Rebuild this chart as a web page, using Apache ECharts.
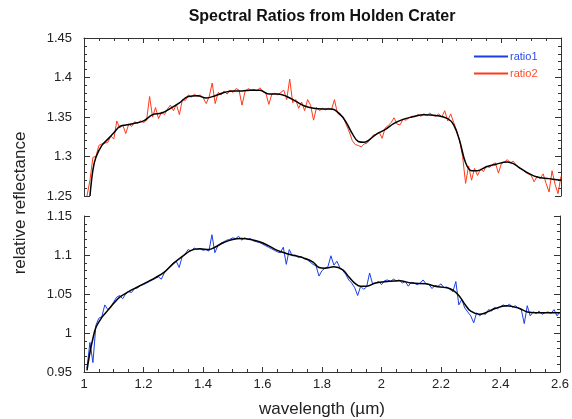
<!DOCTYPE html>
<html>
<head>
<meta charset="utf-8">
<script src="https://cdn.jsdelivr.net/npm/echarts@6/dist/echarts.min.js"></script>
<style>
  html, body { margin: 0; padding: 0; background: #fff; }
  #container { width: 572px; height: 419px; }
</style>
</head>
<body>
<div id="container"></div>
<script>
// wavelength samples (um)
var wl = [
  1.01,1.02,1.03,1.04,1.05,1.06,1.07,1.08,1.09,1.10,
  1.11,1.12,1.13,1.14,1.15,1.16,1.17,1.18,1.19,1.20,
  1.21,1.22,1.23,1.24,1.25,1.26,1.27,1.28,1.29,1.30,
  1.31,1.32,1.33,1.34,1.35,1.36,1.37,1.38,1.39,1.40,
  1.41,1.42,1.43,1.44,1.45,1.46,1.47,1.48,1.49,1.50,
  1.51,1.52,1.53,1.54,1.55,1.56,1.57,1.58,1.59,1.60,
  1.61,1.62,1.63,1.64,1.65,1.66,1.67,1.68,1.69,1.70,
  1.71,1.72,1.73,1.74,1.75,1.76,1.77,1.78,1.79,1.80,
  1.81,1.82,1.83,1.84,1.85,1.86,1.87,1.88,1.89,1.90,
  1.91,1.92,1.93,1.94,1.95,1.96,1.97,1.98,1.99,2.00,
  2.01,2.02,2.03,2.04,2.05,2.06,2.07,2.08,2.09,2.10,
  2.11,2.12,2.13,2.14,2.15,2.16,2.17,2.18,2.19,2.20,
  2.21,2.22,2.23,2.24,2.25,2.26,2.27,2.28,2.29,2.30,
  2.31,2.32,2.33,2.34,2.35,2.36,2.37,2.38,2.39,2.40,
  2.41,2.42,2.43,2.44,2.45,2.46,2.47,2.48,2.49,2.50,
  2.51,2.52,2.53,2.54,2.55,2.56,2.57,2.58,2.59,2.60
];

// ratio2 (top panel, red)
var ratio2 = [
  1.250,1.270,1.299,1.300,1.314,1.316,1.317,1.318,1.326,1.322,
  1.345,1.336,1.340,1.329,1.341,1.338,1.344,1.342,1.345,1.343,
  1.346,1.376,1.350,1.362,1.348,1.356,1.353,1.360,1.365,1.358,
  1.366,1.353,1.372,1.371,1.378,1.375,1.379,1.376,1.378,1.374,
  1.367,1.376,1.393,1.367,1.381,1.378,1.383,1.379,1.384,1.381,
  1.386,1.384,1.365,1.382,1.386,1.384,1.385,1.383,1.387,1.382,
  1.380,1.366,1.379,1.380,1.378,1.381,1.384,1.372,1.398,1.368,
  1.372,1.361,1.369,1.358,1.372,1.365,1.346,1.362,1.358,1.361,
  1.359,1.361,1.359,1.372,1.355,1.352,1.349,1.340,1.331,1.320,
  1.315,1.314,1.312,1.316,1.317,1.322,1.327,1.328,1.331,1.323,
  1.336,1.339,1.343,1.349,1.341,1.340,1.347,1.346,1.349,1.351,
  1.350,1.353,1.351,1.354,1.352,1.355,1.352,1.351,1.354,1.350,
  1.358,1.345,1.354,1.343,1.333,1.320,1.300,1.266,1.288,1.270,
  1.285,1.276,1.284,1.281,1.288,1.286,1.290,1.292,1.279,1.291,
  1.293,1.296,1.292,1.294,1.289,1.285,1.284,1.280,1.278,1.276,
  1.268,1.275,1.272,1.278,1.266,1.255,1.282,1.265,1.253,1.275
];

// ratio1 (bottom panel, blue)
var ratio1 = [
  0.955,0.988,0.962,1.010,1.019,1.021,1.036,1.030,1.033,1.040,
  1.046,1.048,1.044,1.050,1.053,1.052,1.057,1.058,1.061,1.062,
  1.064,1.066,1.068,1.070,1.072,1.069,1.077,1.082,1.085,1.090,
  1.092,1.084,1.098,1.101,1.107,1.105,1.109,1.107,1.108,1.106,
  1.107,1.105,1.126,1.103,1.112,1.115,1.117,1.119,1.120,1.122,
  1.121,1.124,1.119,1.122,1.120,1.121,1.118,1.117,1.116,1.114,
  1.112,1.110,1.108,1.106,1.104,1.103,1.110,1.088,1.107,1.099,
  1.100,1.097,1.098,1.095,1.094,1.091,1.088,1.086,1.073,1.080,
  1.083,1.085,1.099,1.087,1.092,1.084,1.080,1.075,1.068,1.064,
  1.058,1.048,1.060,1.056,1.059,1.077,1.063,1.064,1.066,1.062,
  1.067,1.068,1.066,1.069,1.067,1.068,1.064,1.066,1.060,1.065,
  1.064,1.062,1.064,1.068,1.063,1.062,1.057,1.061,1.060,1.063,
  1.058,1.059,1.056,1.053,1.066,1.036,1.043,1.032,1.027,1.022,
  1.013,1.026,1.022,1.025,1.024,1.030,1.028,1.033,1.031,1.034,
  1.036,1.034,1.037,1.033,1.035,1.032,1.030,1.012,1.035,1.022,
  1.027,1.025,1.028,1.024,1.026,1.027,1.025,1.030,1.022,1.027
];

// smooth fits (black)
var fitWl2 = [1.02,1.03,1.04,1.06,1.08,1.10,1.12,1.14,1.17,1.20,1.23,1.26,1.29,1.32,1.35,1.38,1.41,1.44,1.47,1.50,
  1.53,1.56,1.59,1.62,1.65,1.68,1.71,1.74,1.77,1.80,1.83,1.86,1.88,1.90,1.92,1.94,1.96,1.98,2.01,2.04,
  2.07,2.10,2.14,2.18,2.22,2.24,2.26,2.28,2.30,2.32,2.35,2.38,2.42,2.44,2.46,2.49,2.52,2.56,2.60];
var fit2 = [1.250,1.283,1.299,1.314,1.322,1.330,1.338,1.340,1.342,1.345,1.353,1.355,1.361,1.368,1.376,1.377,1.374,1.377,1.381,1.383,
  1.383,1.384,1.384,1.379,1.379,1.376,1.370,1.364,1.361,1.360,1.360,1.353,1.343,1.329,1.319,1.318,1.322,1.328,1.334,1.342,
  1.347,1.350,1.353,1.352,1.348,1.340,1.320,1.292,1.282,1.282,1.287,1.290,1.293,1.291,1.286,1.279,1.274,1.272,1.270];

var fitWl1 = [1.01,1.02,1.03,1.04,1.06,1.08,1.10,1.12,1.15,1.18,1.21,1.24,1.27,1.30,1.33,1.36,1.39,1.42,1.44,1.47,
  1.50,1.53,1.56,1.59,1.62,1.65,1.68,1.71,1.74,1.77,1.79,1.81,1.84,1.87,1.89,1.91,1.93,1.95,1.98,2.02,
  2.06,2.10,2.15,2.18,2.22,2.24,2.26,2.28,2.30,2.33,2.35,2.38,2.42,2.46,2.49,2.52,2.56,2.60];
var fit1 = [0.952,0.975,0.993,1.007,1.020,1.029,1.038,1.046,1.053,1.059,1.065,1.071,1.078,1.089,1.098,1.106,1.108,1.107,1.110,1.116,
  1.120,1.121,1.120,1.117,1.112,1.106,1.102,1.099,1.096,1.091,1.084,1.083,1.085,1.081,1.072,1.064,1.060,1.060,1.064,1.066,
  1.067,1.064,1.063,1.060,1.058,1.055,1.048,1.037,1.028,1.024,1.026,1.031,1.035,1.032,1.027,1.026,1.026,1.026];

function pairs(xs, ys) {
  var out = [];
  for (var i = 0; i < xs.length; i++) out.push([xs[i], ys[i]]);
  return out;
}

var axisColor = '#333';
var font = 'Liberation Sans, Arial, sans-serif';
var blue = '#1a3ee8', red = '#ff3a1a';
var yFmt = function (v) { return String(+v.toFixed(2)); };

function xAx(gridIndex, pos, labels) {
  return {
    type: 'value', gridIndex: gridIndex, position: pos,
    min: 1, max: 2.6, interval: 0.2,
    axisLine: { show: true, onZero: false, lineStyle: { color: axisColor, width: 1 } },
    axisTick: { show: true, inside: true, length: 5, lineStyle: { color: axisColor } },
    minorTick: { show: true, splitNumber: 4, length: 3, lineStyle: { color: axisColor } },
    splitLine: { show: false },
    axisLabel: { show: labels, color: '#222', fontSize: 13, fontFamily: font, margin: 6, formatter: yFmt },
    name: labels ? 'wavelength (\u00b5m)' : '',
    nameLocation: 'middle', nameGap: 29,
    nameTextStyle: { color: '#222', fontSize: 17, fontFamily: font }
  };
}

function yAx(gridIndex, pos, min, max, labels) {
  return {
    type: 'value', gridIndex: gridIndex, position: pos,
    min: min, max: max, interval: 0.05,
    axisLine: { show: true, onZero: false, lineStyle: { color: axisColor, width: 1 } },
    axisTick: { show: true, inside: true, length: 6, lineStyle: { color: axisColor } },
    minorTick: { show: true, splitNumber: 5, length: 3, lineStyle: { color: axisColor } },
    splitLine: { show: false },
    axisLabel: { show: labels, color: '#222', fontSize: 13, fontFamily: font, margin: 12, formatter: yFmt }
  };
}

var dom = document.getElementById('container');
var myChart = echarts.init(dom, null, { renderer: 'canvas' });

var option = {
  animation: false,
  backgroundColor: '#fff',
  grid: [
    { left: 84, top: 38, width: 477, height: 158 },
    { left: 84, top: 216, width: 477, height: 157 }
  ],
  xAxis: [xAx(0, 'top', false), xAx(1, 'bottom', true)],
  yAxis: [
    yAx(0, 'left', 1.25, 1.45, true), yAx(0, 'right', 1.25, 1.45, false),
    yAx(1, 'left', 0.95, 1.15, true), yAx(1, 'right', 0.95, 1.15, false)
  ],
  legend: {
    orient: 'vertical', left: 474, top: 51, padding: 0,
    itemWidth: 34, itemHeight: 2, itemGap: 6,
    icon: 'rect',
    textStyle: { fontSize: 11, fontFamily: font, padding: [0, 0, 0, -3] },
    data: [
      { name: 'ratio1', itemStyle: { color: blue, borderWidth: 0 }, textStyle: { color: '#2a4be8' } },
      { name: 'ratio2', itemStyle: { color: red, borderWidth: 0 }, textStyle: { color: '#ff4a2a' } }
    ]
  },
  graphic: [
    { type: 'text', x: 322, y: 17,
      style: { text: 'Spectral Ratios from Holden Crater', font: 'bold 16px ' + font, fill: '#111', align: 'center', verticalAlign: 'middle' } },
    { type: 'text', x: 20, y: 203, rotation: Math.PI / 2,
      style: { text: 'relative reflectance', font: '17px ' + font, fill: '#222', align: 'center', verticalAlign: 'middle' } }
  ],
  series: [
    { name: 'ratio2', type: 'line', xAxisIndex: 0, yAxisIndex: 0, data: pairs(wl, ratio2),
      symbol: 'none', lineStyle: { color: red, width: 1 }, itemStyle: { color: red } },
    { name: 'ratio1', type: 'line', xAxisIndex: 1, yAxisIndex: 2, data: pairs(wl, ratio1),
      symbol: 'none', lineStyle: { color: blue, width: 1 }, itemStyle: { color: blue } },
    { name: 'fit2', type: 'line', xAxisIndex: 0, yAxisIndex: 0, data: pairs(fitWl2, fit2),
      symbol: 'none', smooth: 0.4, lineStyle: { color: '#000', width: 1.5 } },
    { name: 'fit1', type: 'line', xAxisIndex: 1, yAxisIndex: 2, data: pairs(fitWl1, fit1),
      symbol: 'none', smooth: 0.4, lineStyle: { color: '#000', width: 1.5 } }
  ]
};

if (option && typeof option === 'object') {
  myChart.setOption(option, true);
}
</script>
</body>
</html>
